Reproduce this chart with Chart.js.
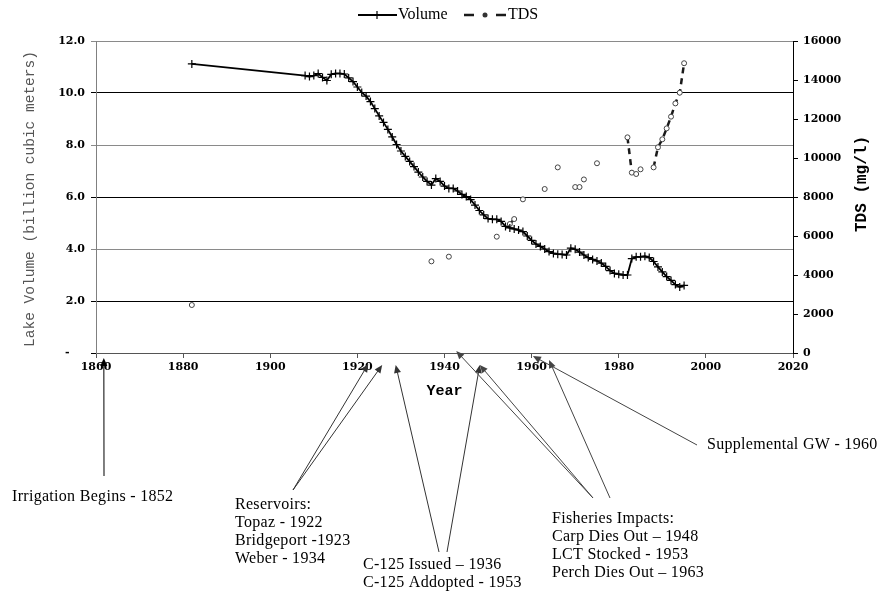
<!DOCTYPE html>
<html>
<head>
<meta charset="utf-8">
<script src="https://cdn.jsdelivr.net/npm/chart.js@4"></script>
<style>
  html, body { margin: 0; padding: 0; background: #fff; }
</style>
</head>
<body>
<canvas id="lake" width="882" height="595"></canvas>
<script>
// lake volume, billion cubic meters
const volumeYears = [1882,
  1908, 1909, 1910, 1911, 1912, 1913, 1914, 1915, 1916, 1917,
  1918, 1919, 1920, 1921, 1922, 1923, 1924, 1925, 1926, 1927,
  1928, 1929, 1930, 1931, 1932, 1933, 1934, 1935, 1936, 1937,
  1938, 1939, 1940, 1941, 1942, 1943, 1944, 1945, 1946, 1947,
  1948, 1949, 1950, 1951, 1952, 1953, 1954, 1955, 1956, 1957,
  1958, 1959, 1960, 1961, 1962, 1963, 1964, 1965, 1966, 1967,
  1968, 1969, 1970, 1971, 1972, 1973, 1974, 1975, 1976, 1977,
  1978, 1979, 1980, 1981, 1982, 1983, 1984, 1985, 1986, 1987,
  1988, 1989, 1990, 1991, 1992, 1993, 1994, 1995];
const volumeValues = [11.12,
  10.67, 10.63, 10.67, 10.75, 10.60, 10.48, 10.72, 10.75, 10.75, 10.73,
  10.58, 10.44, 10.23, 10.02, 9.88, 9.67, 9.40, 9.12, 8.87, 8.60,
  8.31, 8.02, 7.77, 7.56, 7.37, 7.17, 6.96, 6.77, 6.60, 6.46,
  6.71, 6.60, 6.42, 6.33, 6.33, 6.23, 6.10, 6.02, 5.90, 5.69,
  5.48, 5.31, 5.17, 5.14, 5.14, 5.06, 4.87, 4.81, 4.77, 4.73,
  4.67, 4.50, 4.33, 4.19, 4.10, 4.00, 3.90, 3.83, 3.80, 3.79,
  3.77, 4.03, 3.99, 3.88, 3.77, 3.67, 3.60, 3.54, 3.46, 3.33,
  3.17, 3.06, 3.03, 3.00, 3.00, 3.63, 3.70, 3.70, 3.72, 3.67,
  3.52, 3.31, 3.12, 2.94, 2.79, 2.63, 2.54, 2.60];

// TDS, mg/l  (null = no sample, breaks the dashed line)
const tdsYears = [1882, 1900, 1937, 1939, 1941, 1946, 1952, 1954, 1955, 1956,
  1957, 1958, 1960, 1963, 1965, 1966, 1968, 1970, 1971, 1971.5,
  1972, 1974, 1975, 1978, 1982, 1983, 1984, 1985, 1986.5, 1988,
  1989, 1990, 1991, 1992, 1993, 1994, 1995];
const tdsValues = [2460, null, 4700, null, 4940, null, 5965, null, 6615, 6870,
  null, 7880, null, 8410, null, 9520, null, 8510, 8510, null,
  8900, null, 9730, null, 11060, 9250, 9180, 9420, null, 9520,
  10550, 10960, 11520, 12120, 12800, 13350, 14860];

const yearTicks = [1860, 1880, 1900, 1920, 1940, 1960, 1980, 2000, 2020];

const serif = '"Liberation Serif", "Times New Roman", serif';
const tickFont = { family: '"DejaVu Serif", serif', size: 11, weight: 'bold' };

function drawArrow(c, fx, fy, tx, ty) {
  const a = Math.atan2(ty - fy, tx - fx);
  c.beginPath();
  c.moveTo(fx, fy);
  c.lineTo(tx - 6 * Math.cos(a), ty - 6 * Math.sin(a));
  c.stroke();
  c.beginPath();
  c.moveTo(tx, ty);
  c.lineTo(tx - 8 * Math.cos(a) + 3.5 * Math.sin(a), ty - 8 * Math.sin(a) - 3.5 * Math.cos(a));
  c.lineTo(tx - 8 * Math.cos(a) - 3.5 * Math.sin(a), ty - 8 * Math.sin(a) + 3.5 * Math.cos(a));
  c.closePath();
  c.fill();
}

const overlay = {
  id: 'overlay',
  afterDraw(chart) {
    const c = chart.ctx;
    const xs = chart.scales.x;
    const area = chart.chartArea;
    const vol = chart.data.datasets[0], tds = chart.data.datasets[1];
    c.save();

    // legend
    c.strokeStyle = vol.borderColor; c.lineWidth = vol.borderWidth;
    c.beginPath(); c.moveTo(358, 15); c.lineTo(397, 15); c.stroke();
    c.lineWidth = 1.2;
    c.beginPath(); c.moveTo(377, 11); c.lineTo(377, 19); c.moveTo(373, 15); c.lineTo(381, 15); c.stroke();
    c.strokeStyle = tds.borderColor; c.lineWidth = tds.borderWidth;
    c.beginPath(); c.moveTo(464, 15); c.lineTo(474, 15); c.moveTo(496, 15); c.lineTo(506, 15); c.stroke();
    c.fillStyle = '#333';
    c.beginPath(); c.arc(485, 15, 2.5, 0, Math.PI * 2); c.fill();
    c.fillStyle = '#000';
    c.font = '16px ' + serif;
    c.textBaseline = 'middle';
    c.textAlign = 'left';
    c.fillText('Volume', 398, 15);
    c.fillText('TDS', 508, 15);

    // axis titles
    const midY = (area.top + area.bottom) / 2;
    c.save();
    c.translate(30, midY + 2);
    c.rotate(-Math.PI / 2);
    c.textAlign = 'center';
    c.fillStyle = '#555';
    c.font = '14.5px "Liberation Mono", monospace';
    c.fillText('Lake Volume (billion cubic meters)', 0, 0);
    c.restore();
    c.save();
    c.translate(862, 184);
    c.rotate(-Math.PI / 2);
    c.textAlign = 'center';
    c.fillStyle = '#000';
    c.font = 'bold 16px "Liberation Mono", monospace';
    c.fillText('TDS (mg/l)', 0, 0);
    c.restore();
    c.textAlign = 'center';
    c.font = 'bold 15px "Liberation Mono", monospace';
    c.fillText('Year', (area.left + area.right) / 2, 391);

    // event notes
    const notes = [
      { lines: ['Irrigation Begins - 1852'], x: 12, y: 497 },
      { lines: ['Reservoirs:', 'Topaz - 1922', 'Bridgeport -1923', 'Weber - 1934'], x: 235, y: 505 },
      { lines: ['C-125 Issued \u2013 1936', 'C-125 Addopted - 1953'], x: 363, y: 565 },
      { lines: ['Fisheries Impacts:', 'Carp Dies Out \u2013 1948', 'LCT Stocked - 1953', 'Perch Dies Out \u2013 1963'], x: 552, y: 519 },
      { lines: ['Supplemental GW - 1960'], x: 707, y: 445 }
    ];
    c.textAlign = 'left';
    c.font = '16px ' + serif;
    c.letterSpacing = '0.3px';
    notes.forEach(n => n.lines.forEach((t, i) => c.fillText(t, n.x, n.y + i * 18)));
    c.letterSpacing = '0px';

    const arrows = [
      { from: [104, 476], year: 1861.8, tipY: 358, color: '#000' },
      { from: [293, 490], year: 1922.5, tipY: 364, color: '#333' },
      { from: [293, 490], year: 1925.7, tipY: 365, color: '#333' },
      { from: [439, 552], year: 1928.8, tipY: 365, color: '#333' },
      { from: [447, 552], year: 1948.1, tipY: 365, color: '#333' },
      { from: [593, 498], year: 1942.7, tipY: 351, color: '#444' },
      { from: [593, 498], year: 1948.1, tipY: 365, color: '#444' },
      { from: [610, 498], year: 1964.0, tipY: 360, color: '#444' },
      { from: [697, 445], year: 1960.3, tipY: 356, color: '#444' }
    ];
    c.lineWidth = 1;
    arrows.forEach(a => {
      c.strokeStyle = a.color; c.fillStyle = a.color;
      drawArrow(c, a.from[0], a.from[1], xs.getPixelForValue(a.year), a.tipY);
    });
    c.restore();
  }
};

new Chart(document.getElementById('lake'), {
  type: 'line',
  data: {
    datasets: [{
      label: 'Volume',
      data: volumeYears.map((yr, i) => ({ x: yr, y: volumeValues[i] })),
      yAxisID: 'yVol',
      borderColor: '#000',
      borderWidth: 1.8,
      pointStyle: 'cross',
      pointRadius: 4,
      pointBorderWidth: 1.2,
      pointBorderColor: '#000',
      tension: 0
    }, {
      label: 'TDS',
      data: tdsYears.map((yr, i) => ({ x: yr, y: tdsValues[i] })),
      yAxisID: 'yTds',
      borderColor: '#1a1a1a',
      borderWidth: 2.5,
      borderDash: [6, 5],
      pointStyle: 'circle',
      pointRadius: 2.5,
      pointBackgroundColor: '#fff',
      pointBorderColor: '#444',
      pointBorderWidth: 1,
      spanGaps: false,
      tension: 0
    }]
  },
  options: {
    responsive: false,
    animation: false,
    events: [],
    layout: { padding: { top: 41, left: 0, right: 0, bottom: 0 } },
    plugins: { legend: { display: false }, tooltip: { enabled: false } },
    scales: {
      x: {
        type: 'linear',
        min: yearTicks[0],
        max: yearTicks[yearTicks.length - 1],
        afterBuildTicks: s => { s.ticks = yearTicks.map(v => ({ value: v })); },
        ticks: { font: tickFont, color: '#000', padding: 3, maxRotation: 0, autoSkip: false, callback: v => String(v) },
        grid: { drawOnChartArea: false, tickLength: 5, color: '#555' },
        border: { color: '#555' },
        afterFit: s => { s.height = 242; }
      },
      yVol: {
        position: 'left',
        min: 0,
        max: 12,
        ticks: { stepSize: 2, font: tickFont, color: '#000', padding: 6, callback: v => v === 0 ? '-    ' : v.toFixed(1) },
        grid: { tickLength: 5, color: c => [4, 8, 12].includes(c.tick.value) ? '#8a8a8a' : '#000' },
        border: { color: '#808080' },
        afterFit: s => { s.width = 96; }
      },
      yTds: {
        position: 'right',
        min: 0,
        max: 16000,
        ticks: { stepSize: 2000, font: tickFont, color: '#000', padding: 5, callback: v => String(v) },
        grid: { drawOnChartArea: false, tickLength: 5, color: '#000' },
        border: { color: '#000' },
        afterFit: s => { s.width = 89; }
      }
    }
  },
  plugins: [overlay]
});
</script>
</body>
</html>
